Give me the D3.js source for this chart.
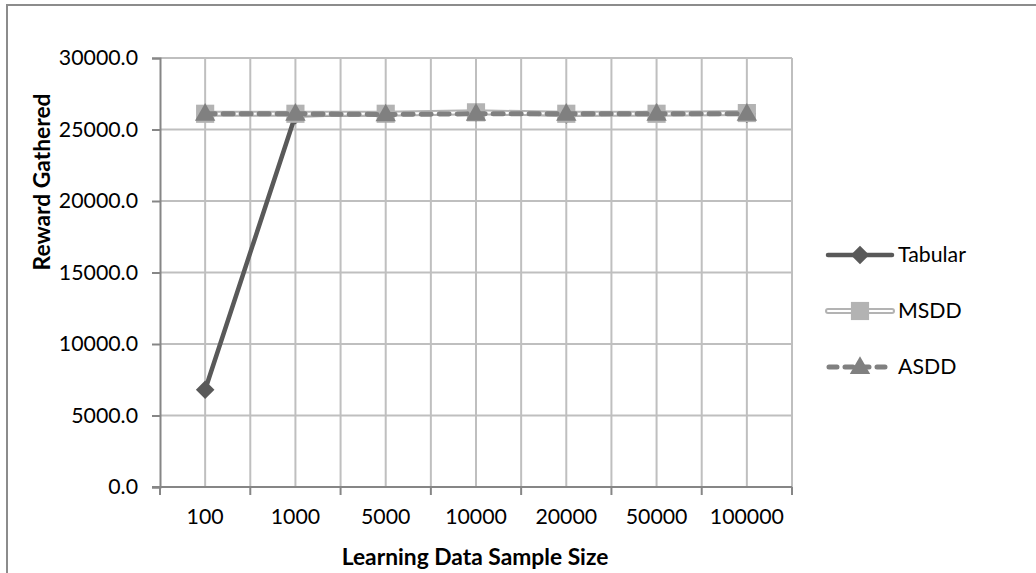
<!DOCTYPE html>
<html><head><meta charset="utf-8">
<script src="https://cdn.jsdelivr.net/npm/d3@7"></script>
<style>body{margin:0;background:#fff}svg{display:block}</style>
</head><body>
<svg id="c" width="1036" height="573"></svg>
<script>
const categories = ["100","1000","5000","10000","20000","50000","100000"];
const tabular = [6800, 26000, 26100, 26200, 26050, 26150, 26100];
const msdd = [26100, 26100, 26100, 26200, 26100, 26100, 26150];
const asdd = [26100, 26100, 26050, 26100, 26100, 26100, 26100];
const yTicks = [0, 5000, 10000, 15000, 20000, 25000, 30000];
const seriesNames = ["Tabular", "MSDD", "ASDD"];

const svg = d3.select("#c");
const FONT = "Lato, 'Open Sans', sans-serif";
const L = 160, R = 792, T = 58, B = 487;
const TICKFS = 21.3, TITLEFS = 22.8;

svg.append("rect").attr("x",7).attr("y",5).attr("width",1200).attr("height",800)
  .attr("fill","none").attr("stroke","#8c8c8c").attr("stroke-width",2);

const x = d3.scaleBand().domain(categories).range([L,R]).padding(0);
const y = d3.scaleLinear().domain([0,30000]).range([B,T]);
const cx = d => x(d) + x.bandwidth()/2;

const grid = svg.append("g");
const edges = categories.map(c => x(c)).concat([R]);
const centres = categories.map(cx);
edges.slice(1).concat(centres).forEach(v => {
  grid.append("line").attr("x1",v).attr("x2",v).attr("y1",T).attr("y2",B)
    .attr("stroke","#bfbfbf").attr("stroke-width",2);
});
yTicks.slice(1).forEach(v => {
  grid.append("line").attr("x1",L).attr("x2",R).attr("y1",y(v)).attr("y2",y(v))
    .attr("stroke","#bfbfbf").attr("stroke-width",2);
});

const yAxis = d3.axisLeft(y).tickValues(yTicks).tickSize(8).tickPadding(14)
  .tickFormat(d3.format(".1f"));
const gy = svg.append("g").attr("transform",`translate(${L},0)`).call(yAxis);
gy.select(".domain").attr("stroke","#868686").attr("stroke-width",2);
gy.selectAll(".tick line").attr("stroke","#868686").attr("stroke-width",2);
gy.selectAll("text").attr("font-family",FONT).attr("font-size",TICKFS).attr("fill","#000");

const gx = svg.append("g").attr("transform",`translate(0,${B})`);
gx.append("line").attr("x1",L-8).attr("x2",R).attr("y1",0).attr("y2",0)
  .attr("stroke","#868686").attr("stroke-width",2);
edges.forEach(v => gx.append("line").attr("x1",v).attr("x2",v).attr("y1",0).attr("y2",8)
  .attr("stroke","#868686").attr("stroke-width",2));
const xAxis = d3.axisBottom(x).tickSize(0).tickPadding(22);
const gx2 = svg.append("g").attr("transform",`translate(0,${B})`).call(xAxis);
gx2.select(".domain").remove();
gx2.selectAll("text").attr("font-family",FONT).attr("font-size",TICKFS).attr("fill","#000");

svg.append("text").attr("x",475).attr("y",565).attr("text-anchor","middle")
  .attr("font-family",FONT).attr("font-weight","bold").attr("font-size",TITLEFS)
  .text("Learning Data Sample Size");
svg.append("text").attr("transform","translate(50,182) rotate(-90)").attr("text-anchor","middle")
  .attr("font-family",FONT).attr("font-weight","bold").attr("font-size",TITLEFS)
  .text("Reward Gathered");

const line = d3.line().x((d,i)=>cx(categories[i])).y(d=>y(d));
const diamond = d3.symbol().type(d3.symbolDiamond2).size(220);
const square = d3.symbol().type(d3.symbolSquare).size(330);
const tri = d3.symbol().type(d3.symbolTriangle).size(180);

svg.append("path").datum(tabular).attr("d",line).attr("fill","none")
  .attr("stroke","#595959").attr("stroke-width",4.5);
svg.selectAll(".dm").data(tabular).enter().append("path")
  .attr("transform",(d,i)=>`translate(${cx(categories[i])},${y(d)})`)
  .attr("d",diamond).attr("fill","#595959");
svg.append("path").datum(msdd).attr("d",line).attr("fill","none")
  .attr("stroke","#b3b3b3").attr("stroke-width",6);
svg.append("path").datum(msdd).attr("d",line).attr("fill","none")
  .attr("stroke","#ffffff").attr("stroke-width",2);
svg.selectAll(".sq").data(msdd).enter().append("path")
  .attr("transform",(d,i)=>`translate(${cx(categories[i])},${y(d)})`)
  .attr("d",square).attr("fill","#b3b3b3");
svg.append("path").datum(asdd).attr("d",line).attr("fill","none")
  .attr("stroke","#808080").attr("stroke-width",5).attr("stroke-dasharray","10,8")
  .attr("stroke-linecap","round");
svg.selectAll(".tr").data(asdd).enter().append("path")
  .attr("transform",(d,i)=>`translate(${cx(categories[i])},${y(d)+1})`)
  .attr("d",tri).attr("fill","#808080");

const lg = svg.append("g");
const ly = [255, 311, 367];
lg.append("line").attr("x1",828).attr("x2",892).attr("y1",ly[0]).attr("y2",ly[0])
  .attr("stroke","#595959").attr("stroke-width",4.5).attr("stroke-linecap","round");
lg.append("path").attr("transform",`translate(860,${ly[0]})`).attr("d",diamond).attr("fill","#595959");
lg.append("line").attr("x1",828).attr("x2",892).attr("y1",ly[1]).attr("y2",ly[1])
  .attr("stroke","#b3b3b3").attr("stroke-width",6).attr("stroke-linecap","round");
lg.append("line").attr("x1",828).attr("x2",892).attr("y1",ly[1]).attr("y2",ly[1])
  .attr("stroke","#fff").attr("stroke-width",2).attr("stroke-linecap","round");
lg.append("path").attr("transform",`translate(860,${ly[1]})`).attr("d",square).attr("fill","#b3b3b3");
lg.append("line").attr("x1",829).attr("x2",892).attr("y1",ly[2]).attr("y2",ly[2])
  .attr("stroke","#808080").attr("stroke-width",5).attr("stroke-dasharray","8,8")
  .attr("stroke-linecap","round");
lg.append("path").attr("transform",`translate(860,${ly[2]+1})`).attr("d",tri).attr("fill","#808080");
seriesNames.forEach((n,i)=>{
  lg.append("text").attr("x",898).attr("y",ly[i]).attr("dy","0.35em")
    .attr("font-family",FONT).attr("font-size",TICKFS).text(n);
});
</script>
</body></html>
